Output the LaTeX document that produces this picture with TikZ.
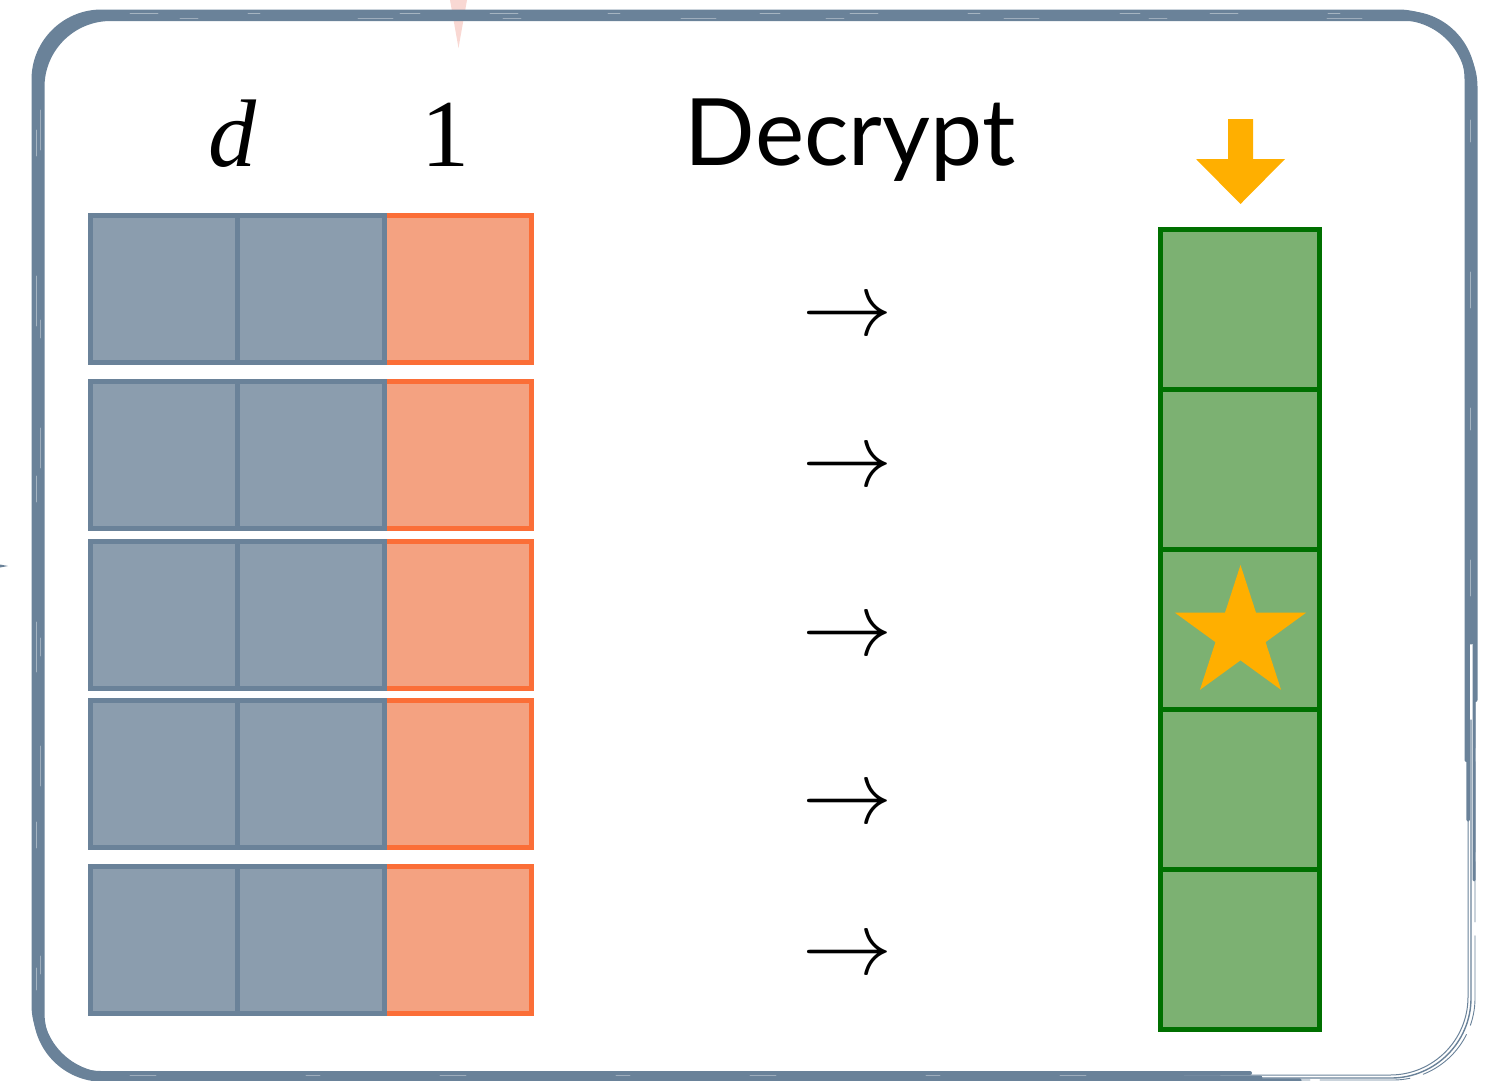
\RequirePackage{fix-cm}
\documentclass[tikz,border=0pt]{standalone}
\usepackage{fontspec}
\newfontfamily\decfont{Lato}
\newfontfamily\headfont{Liberation Serif}
\usetikzlibrary{shapes.geometric}

\definecolor{frameblue}{HTML}{6A8299}
\definecolor{cellgray}{HTML}{8B9DAE}
\definecolor{cellorange}{HTML}{F4A281}
\definecolor{cellorangeline}{HTML}{FB6E37}
\definecolor{cellgreen}{HTML}{7CB172}
\definecolor{cellgreenline}{HTML}{007000}
\definecolor{marker}{HTML}{FFAF00}
\definecolor{spikepink}{HTML}{F9D8D3}

\begin{document}
\begin{tikzpicture}[x=1pt,y=-1pt,
  cellbase/.style={rectangle, inner sep=0pt, line width=5pt},
  graycell/.style={cellbase, draw=frameblue, fill=cellgray, minimum width=147pt, minimum height=147pt},
  orangecell/.style={cellbase, draw=cellorangeline, fill=cellorange, minimum width=147pt, minimum height=147pt},
  greencell/.style={cellbase, draw=cellgreenline, fill=cellgreen, minimum width=159.5pt, minimum height=160pt},
  headtext/.style={inner sep=0pt, anchor=base, font=\headfont\fontsize{96}{100}\selectfont},
  maparrow/.style={inner sep=0pt, anchor=base, font=\fontsize{90}{92}\selectfont},
  framestroke/.style={draw=frameblue, line cap=round, line join=round},
  streak/.style={white, line cap=round}
]
\useasboundingbox (0,0) rectangle (1485,1080);

% small stray marks at the edges
\fill[spikepink] (450,0) -- (467,0) -- (458.5,48) -- cycle;
\fill[frameblue] (0,564.5) -- (8,566) -- (0,567.5) -- cycle;

% hand-drawn frame: overlapping strokes that thin out towards the bottom-right corner
\foreach \dx/\dy/\w/\yend/\xend in {0/0/9/640/1180, -4.5/-4/4/760/1250, 4.5/3.5/4/700/1120,
    -3/3/3.5/820/1300, 3/-3/3/880/1220, 1/1/5/600/1260}{
  \draw[framestroke, line width=\w pt, rounded corners=68pt]
    (1471+\dx,\yend) -- (1471+\dx,15.5+\dy) -- (38+\dx,15.5+\dy)
    -- (38+\dx,1077+\dy) -- (\xend,1077+\dy);
}
% thin strokes round the bottom-right corner
\draw[framestroke, line width=1.4pt, rounded corners=80pt]
  (1150,1078) -- (1471,1078) -- (1471,720);
\draw[framestroke, line width=1pt, rounded corners=78pt]
  (1180,1075) -- (1468,1075) -- (1468,700);
\draw[framestroke, line width=.9pt, rounded corners=82pt, dash pattern=on 60pt off 10pt on 90pt off 14pt]
  (1250,1080) -- (1475,1080) -- (1475,690);

% light streaks through the frame
\draw[streak, opacity=.4, line width=.8pt, dash pattern=on 28pt off 90pt on 12pt off 140pt on 20pt off 70pt]
  (130,13) -- (1380,13);
\draw[streak, opacity=.35, line width=.7pt, dash pattern=on 18pt off 160pt on 35pt off 110pt]
  (180,18) -- (1380,18);
\draw[streak, opacity=.4, line width=.8pt, dash pattern=on 26pt off 120pt on 50pt off 150pt]
  (36,130) -- (36,990);
\draw[streak, opacity=.35, line width=.7pt, dash pattern=on 40pt off 170pt on 18pt off 90pt]
  (40,110) -- (40,1000);
\draw[streak, opacity=.4, line width=.7pt, dash pattern=on 22pt off 130pt on 36pt off 100pt]
  (1470,120) -- (1470,600);
\draw[streak, opacity=.35, line width=.7pt, dash pattern=on 26pt off 150pt on 14pt off 120pt]
  (130,1075) -- (1100,1075);

% column headers
\node[headtext] (hd) at (232,166) {\itshape d};
\node[headtext] (h1) at (445,166) {1};
\node[inner sep=0pt, anchor=base, font=\decfont\fontsize{93}{100}\selectfont] (title) at (850,165) {Decrypt};

% left table: five rows of d gray cells and one orange cell
\foreach \r/\yc in {1/289, 2/454.5, 3/614.5, 4/774, 5/939.5}{
  \node[orangecell] (o\r) at (457.5,\yc) {};
  \node[graycell] (a\r) at (164,\yc) {};
  \node[graycell] (b\r) at (311,\yc) {};
}

% decryption arrows
\foreach \r/\ya in {1/313, 2/464, 3/633, 4/801, 5/952}{
  \node[maparrow] (m\r) at (847,\ya+22.5) {$\rightarrow$};
}

% result column
\foreach \r/\yc in {1/309, 2/469, 3/629, 4/789, 5/949}{
  \node[greencell] (g\r) at (1239.75,\yc) {};
}

% selected entry and pointer
\node[star, star points=5, star point ratio=2.618, fill=marker, inner sep=0pt, minimum size=138pt] (pick) at (1240.5,634) {};
\fill[marker] (1228,119) -- (1253,119) -- (1253,159) -- (1285,159) -- (1240.5,204)
  -- (1196,159) -- (1228,159) -- cycle;
\end{tikzpicture}
\end{document}
